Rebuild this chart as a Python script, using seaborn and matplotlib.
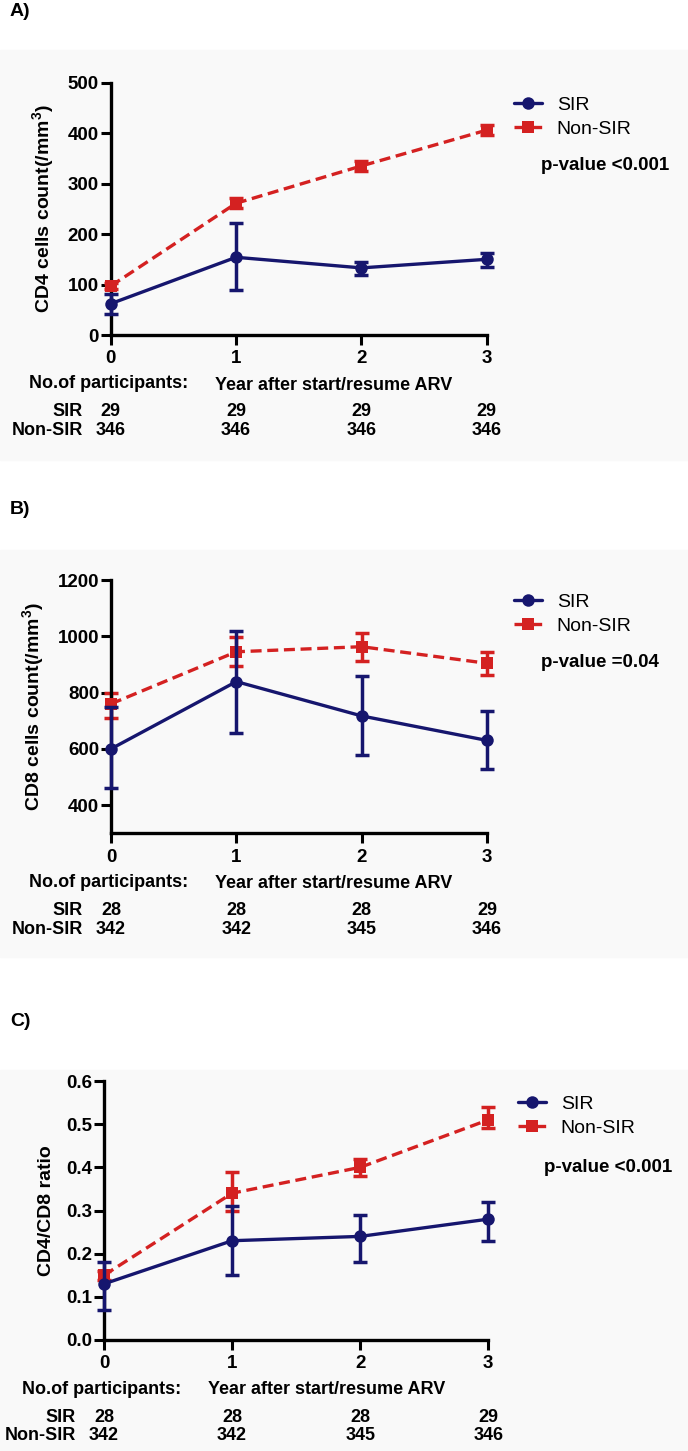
import numpy as np
import pandas as pd
import matplotlib
matplotlib.use("Agg")
import matplotlib.pyplot as plt
import matplotlib.transforms as mtransforms
from matplotlib.lines import Line2D
from matplotlib.patches import Rectangle
import seaborn as sns

sns.set_theme(style="ticks")
plt.rcParams["font.family"] = ["Liberation Sans", "DejaVu Sans"]
plt.rcParams["text.color"] = "black"
plt.rcParams["axes.labelcolor"] = "black"
plt.rcParams["xtick.color"] = "black"
plt.rcParams["ytick.color"] = "black"
plt.rcParams["mathtext.fontset"] = "custom"
plt.rcParams["mathtext.rm"] = "Liberation Sans:bold"
plt.rcParams["mathtext.bf"] = "Liberation Sans:bold"

# ---------------- data ----------------
years = [0, 1, 2, 3]
groups = ["SIR", "Non-SIR"]

# Panel A: CD4 count
cd4_sir_mean = [62, 154, 133, 150]
cd4_sir_lo = [42, 89, 119, 135]
cd4_sir_hi = [82, 221, 145, 163]
cd4_non_mean = [97, 261, 335, 406]
cd4_non_lo = [91, 251, 325, 396]
cd4_non_hi = [103, 271, 345, 416]
cd4_n_sir = [29, 29, 29, 29]
cd4_n_non = [346, 346, 346, 346]

# Panel B: CD8 count
cd8_sir_mean = [600, 839, 717, 630]
cd8_sir_lo = [461, 658, 577, 528]
cd8_sir_hi = [750, 1018, 860, 733]
cd8_non_mean = [760, 945, 963, 904]
cd8_non_lo = [709, 894, 913, 862]
cd8_non_hi = [800, 997, 1013, 945]
cd8_n_sir = [28, 28, 28, 29]
cd8_n_non = [342, 342, 345, 346]

# Panel C: CD4/CD8 ratio
rat_sir_mean = [0.13, 0.23, 0.24, 0.28]
rat_sir_lo = [0.07, 0.15, 0.18, 0.23]
rat_sir_hi = [0.18, 0.31, 0.29, 0.32]
rat_non_mean = [0.15, 0.34, 0.40, 0.51]
rat_non_lo = [0.14, 0.30, 0.38, 0.49]
rat_non_hi = [0.16, 0.39, 0.42, 0.54]
rat_n_sir = [28, 28, 28, 29]
rat_n_non = [342, 342, 345, 346]

panel_labels = ["A)", "B)", "C)"]
ylabels = [r"CD4 cells count(/mm$^{\mathbf{3}}$)",
           r"CD8 cells count(/mm$^{\mathbf{3}}$)",
           "CD4/CD8 ratio"]
pvalues = ["p-value <0.001", "p-value =0.04", "p-value <0.001"]
xlabel_text = "Year after start/resume ARV"
table_header = "No.of participants:"

BLUE = "#16166e"
RED = "#d42121"
BG = "#f9f9f9"

W, H = 688, 1451
fig = plt.figure(figsize=(W / 100, H / 100), dpi=100)


def fx(x):
    return x / W


def fy(y):
    return 1 - y / H


# faint panel backgrounds
for top, bot in [(50, 460), (550, 957), (1070, 1451)]:
    fig.patches.append(Rectangle((0, fy(bot)), 1, (bot - top) / H,
                                 transform=fig.transFigure, color=BG, zorder=-10))


def panel(box, plabel, plabel_y, ylabel, yticks, ylim, fmt,
          sir, non, n_sir, n_non, pval, leg_xy, p_xy):
    L, R, T, B = box
    ax = fig.add_axes([fx(L), fy(B), (R - L) / W, (B - T) / H])
    ax.set_facecolor("none")

    specs = [
        ("Non-SIR", non, RED, "s", (0, (3.3, 1.7)), 8, 2),
        ("SIR", sir, BLUE, "o", "-", 9, 4),
    ]
    for name, (m, lo, hi), col, mk, ls, ms, z in specs:
        df = pd.DataFrame({"year": years, "value": m})
        m_arr = np.array(m, float)
        yerr = [m_arr - np.array(lo, float), np.array(hi, float) - m_arr]
        eb = ax.errorbar(years, m, yerr=yerr, fmt="none", ecolor=col,
                         elinewidth=2.5, capsize=5, capthick=2.5, zorder=z)
        for art in eb.lines[1] + eb.lines[2]:
            art.set_clip_on(False)
        sns.lineplot(data=df, x="year", y="value", ax=ax, color=col,
                     marker=mk, markersize=ms, markeredgewidth=0,
                     linestyle=ls, linewidth=2.4, zorder=z + 1,
                     clip_on=False, legend=False)

    ax.set_xlim(0, 3)
    ax.set_ylim(*ylim)
    ax.set_xticks(years)
    ax.set_xticklabels([str(y) for y in years], fontsize=13.5, fontweight="bold")
    ax.set_yticks(yticks)
    ax.set_yticklabels([fmt.format(v) for v in yticks], fontsize=13.5,
                       fontweight="bold")
    ax.tick_params(axis="both", direction="out", length=7, width=2.2,
                   color="black", labelcolor="black")
    ax.tick_params(axis="y", pad=1.5)
    ax.tick_params(axis="x", pad=4)
    for s in ["top", "right"]:
        ax.spines[s].set_visible(False)
    for s in ["left", "bottom"]:
        ax.spines[s].set_linewidth(2.4)
        ax.spines[s].set_color("black")
    ax.set_xlabel("")
    ax.set_ylabel(ylabel, fontsize=14, fontweight="bold", labelpad=8,
                  color="black")

    # legend
    handles = [
        Line2D([], [], color=BLUE, marker="o", markersize=9,
               markeredgewidth=0, linewidth=2.4),
        Line2D([], [], color=RED, marker="s", markersize=8,
               markeredgewidth=0, linewidth=2.4, linestyle=(0, (3.3, 1.7))),
    ]
    leg = ax.legend(handles, groups, loc="center left",
                    bbox_to_anchor=(fx(leg_xy[0]), fy(leg_xy[1])),
                    bbox_transform=fig.transFigure, frameon=False, fontsize=14,
                    handlelength=1.45, handletextpad=0.75, labelspacing=0.35,
                    borderpad=0, borderaxespad=0)
    for t in leg.get_texts():
        t.set_color("black")
    fig.text(fx(p_xy[0]), fy(p_xy[1]), pval, fontsize=13.5,
             fontweight="bold", va="center", ha="left", color="black")

    # panel label
    fig.text(fx(10), fy(plabel_y), plabel, fontsize=14, fontweight="bold",
             va="center", ha="left", color="black")

    # participants table
    kw = dict(fontsize=13, fontweight="bold", va="center", color="black")
    fig.text(fx(L - 82), fy(B + 49), table_header, ha="left", **kw)
    fig.text(fx(L + 104), fy(B + 50), xlabel_text, ha="left", **kw)
    fig.text(fx(L - 28), fy(B + 77), "SIR", ha="right", **kw)
    fig.text(fx(L - 28), fy(B + 96), "Non-SIR", ha="right", **kw)
    trans = mtransforms.blended_transform_factory(ax.transData, fig.transFigure)
    for yv, a, b in zip(years, n_sir, n_non):
        ax.text(yv, fy(B + 77), str(a), transform=trans, ha="center", **kw)
        ax.text(yv, fy(B + 96), str(b), transform=trans, ha="center", **kw)
    return ax


panel((110.7, 486.7, 82.7, 335), panel_labels[0], 12, ylabels[0],
      [0, 100, 200, 300, 400, 500], (0, 500), "{:d}",
      (cd4_sir_mean, cd4_sir_lo, cd4_sir_hi),
      (cd4_non_mean, cd4_non_lo, cd4_non_hi),
      cd4_n_sir, cd4_n_non, pvalues[0], (514, 117), (541, 165))

panel((111, 487, 580, 833.3), panel_labels[1], 510, ylabels[1],
      [400, 600, 800, 1000, 1200], (300, 1200), "{:d}",
      (cd8_sir_mean, cd8_sir_lo, cd8_sir_hi),
      (cd8_non_mean, cd8_non_lo, cd8_non_hi),
      cd8_n_sir, cd8_n_non, pvalues[1], (514, 614), (541, 663))

panel((104, 488.3, 1081, 1340), panel_labels[2], 1022, ylabels[2],
      [0.0, 0.1, 0.2, 0.3, 0.4, 0.5, 0.6], (0, 0.6), "{:.1f}",
      (rat_sir_mean, rat_sir_lo, rat_sir_hi),
      (rat_non_mean, rat_non_lo, rat_non_hi),
      rat_n_sir, rat_n_non, pvalues[2], (518, 1116), (544, 1167))

fig.savefig("out.png", dpi=100)
